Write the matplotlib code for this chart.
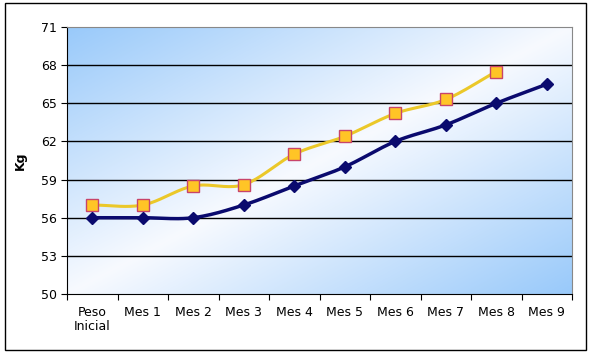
import numpy as np
import matplotlib
matplotlib.use("Agg")
import matplotlib.pyplot as plt
from matplotlib.patches import Rectangle

CATEGORIES = ['Peso\nInicial', 'Mes 1', 'Mes 2', 'Mes 3', 'Mes 4',
              'Mes 5', 'Mes 6', 'Mes 7', 'Mes 8', 'Mes 9']
NAVY_VALUES = [56.0, 56.0, 56.0, 57.0, 58.5, 60.0, 62.0, 63.3, 65.0, 66.5]
GOLD_VALUES = [57.0, 57.0, 58.5, 58.6, 61.0, 62.4, 64.2, 65.3, 67.5]
Y_TICKS = [50, 53, 56, 59, 62, 65, 68, 71]

FONT = 9


def smooth(xs, ys, n=20):
    # Catmull-Rom style smoothing, like Excel's "smoothed line"
    xs = np.asarray(xs, float)
    ys = np.asarray(ys, float)
    px = np.concatenate([[2 * xs[0] - xs[1]], xs, [2 * xs[-1] - xs[-2]]])
    py = np.concatenate([[2 * ys[0] - ys[1]], ys, [2 * ys[-1] - ys[-2]]])
    ox, oy = [], []
    t = np.linspace(0, 1, n, endpoint=False)
    for i in range(1, len(px) - 2):
        for p, o in ((px, ox), (py, oy)):
            p0, p1, p2, p3 = p[i - 1], p[i], p[i + 1], p[i + 2]
            o.extend(0.5 * ((2 * p1) + (-p0 + p2) * t
                            + (2 * p0 - 5 * p1 + 4 * p2 - p3) * t ** 2
                            + (-p0 + 3 * p1 - 3 * p2 + p3) * t ** 3))
    ox.append(xs[-1])
    oy.append(ys[-1])
    return np.array(ox), np.array(oy)


fig = plt.figure(figsize=(5.9, 3.56), dpi=100)
fig.patches.append(Rectangle((5 / 590, 6 / 356), 581 / 590, 347 / 356,
                             transform=fig.transFigure, fill=False,
                             edgecolor='black', linewidth=1.0))

ax = fig.add_axes([67 / 590, 1 - 294 / 356, 505 / 590, 267 / 356])

# diagonal blue-white-blue gradient background
gx, gy = np.meshgrid(np.linspace(0, 1, 200), np.linspace(0, 1, 200))
d = (gx + (1 - gy)) / 2.0
w = np.clip(np.abs(d - 0.5) * 2.0, 0, 1) ** 1.0
white = np.array([0.97, 0.98, 1.0])
blue = np.array([0.60, 0.79, 0.98])
img = white[None, None, :] * (1 - w[..., None]) + blue[None, None, :] * w[..., None]
ax.imshow(img, extent=[0, 1, 0, 1], transform=ax.transAxes,
          aspect='auto', zorder=0, origin='lower')

x_all = np.arange(len(CATEGORIES))
ax.set_xlim(-0.5, len(CATEGORIES) - 0.5)
ax.set_ylim(50, 71)

for yv in Y_TICKS[1:-1]:
    ax.axhline(yv, color='black', linewidth=1.0, zorder=1)

sx, sy = smooth(x_all[:len(GOLD_VALUES)], GOLD_VALUES)
ax.plot(sx, sy, color='#EBC829', linewidth=2.2, zorder=2)
ax.plot(x_all[:len(GOLD_VALUES)], GOLD_VALUES, linestyle='none', marker='s',
        markersize=9, markerfacecolor='#FFC526', markeredgecolor='#C8446A',
        markeredgewidth=1.0, zorder=3)

sx, sy = smooth(x_all, NAVY_VALUES)
ax.plot(sx, sy, color='#0A0A6E', linewidth=2.5, zorder=4)
ax.plot(x_all, NAVY_VALUES, linestyle='none', marker='D', markersize=6,
        color='#0A0A6E', zorder=5)

ax.set_yticks(Y_TICKS)
ax.set_yticklabels([str(v) for v in Y_TICKS], fontsize=FONT)
ax.set_xticks(np.arange(-0.5, len(CATEGORIES), 1.0))
ax.set_xticklabels([])
ax.set_xticks(x_all, minor=True)
ax.set_xticklabels(CATEGORIES, minor=True, fontsize=FONT, linespacing=1.1)
ax.tick_params(axis='x', which='minor', length=0, pad=9)
ax.tick_params(axis='both', which='major', direction='out', length=4,
               width=0.8, color='black')
ax.set_ylabel('Kg', fontsize=FONT, fontweight='bold', labelpad=10)

ax.spines['left'].set_color('black')
ax.spines['bottom'].set_color('black')
ax.spines['top'].set_color('#888888')
ax.spines['right'].set_color('#888888')

plt.savefig('out.png', dpi=100)
